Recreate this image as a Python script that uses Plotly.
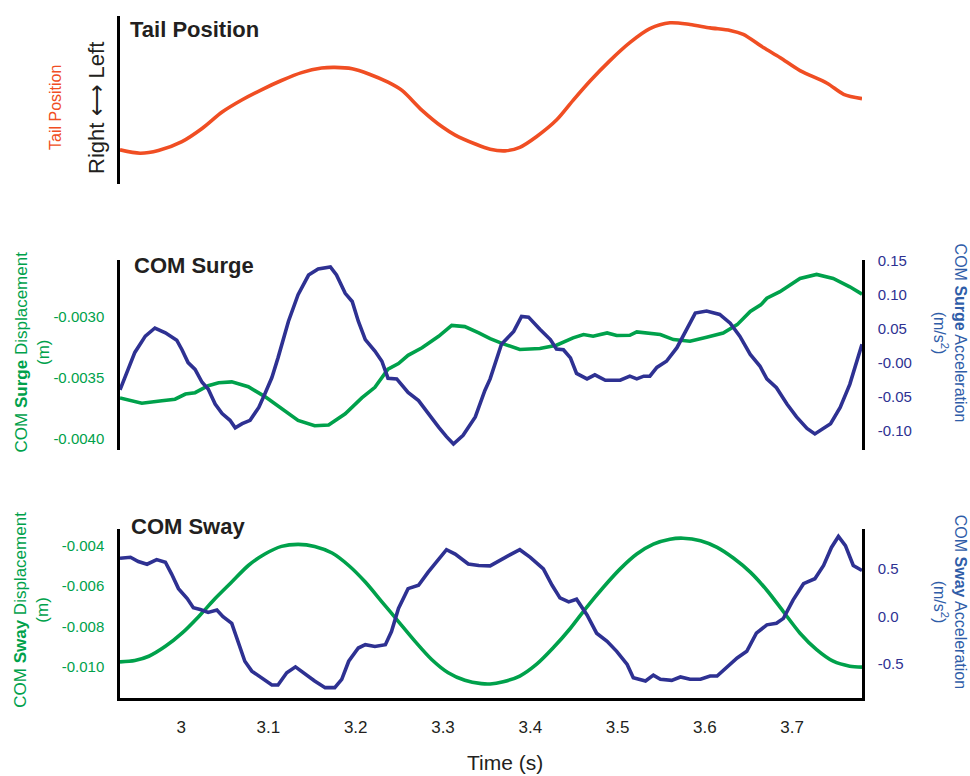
import plotly.graph_objects as go

# ---------------- data ----------------
tail_t = [2.930, 2.953, 2.974, 3.001, 3.024, 3.047, 3.070, 3.092, 3.115, 3.138,
          3.161, 3.176, 3.196, 3.215, 3.237, 3.253, 3.276, 3.299, 3.314, 3.337,
          3.354, 3.371, 3.388, 3.407, 3.430, 3.449, 3.469, 3.491, 3.514, 3.537,
          3.560, 3.583, 3.606, 3.629, 3.644, 3.667, 3.686, 3.709, 3.740, 3.759, 3.780]
tail_pos = [0.204, 0.184, 0.200, 0.253, 0.331, 0.429, 0.502, 0.561, 0.616, 0.663,
            0.690, 0.694, 0.686, 0.655, 0.606, 0.557, 0.439, 0.341, 0.292, 0.239,
            0.208, 0.198, 0.219, 0.282, 0.381, 0.498, 0.616, 0.733, 0.841, 0.924,
            0.959, 0.949, 0.929, 0.914, 0.890, 0.812, 0.753, 0.675, 0.600, 0.534, 0.508]

surge_disp_t = [2.930, 2.955, 2.978, 2.993, 3.005, 3.016, 3.031, 3.043, 3.058, 3.077,
                3.096, 3.115, 3.134, 3.153, 3.169, 3.188, 3.207, 3.222, 3.237, 3.249,
                3.260, 3.276, 3.295, 3.310, 3.325, 3.341, 3.354, 3.369, 3.388, 3.411,
                3.430, 3.449, 3.461, 3.472, 3.488, 3.499, 3.514, 3.522, 3.537, 3.549,
                3.564, 3.583, 3.602, 3.621, 3.637, 3.652, 3.664, 3.671, 3.686, 3.709,
                3.728, 3.747, 3.766, 3.780]
surge_disp = [-0.003667, -0.003710, -0.003689, -0.003677, -0.003635, -0.003624, -0.003567, -0.003543, -0.003535, -0.003575,
              -0.003656, -0.003756, -0.003851, -0.003894, -0.003888, -0.003797, -0.003667, -0.003580, -0.003432, -0.003386,
              -0.003318, -0.003256, -0.003162, -0.003073, -0.003083, -0.003135, -0.003181, -0.003224, -0.003270, -0.003262,
              -0.003235, -0.003175, -0.003148, -0.003162, -0.003135, -0.003156, -0.003154, -0.003126, -0.003135, -0.003148,
              -0.003189, -0.003203, -0.003170, -0.003135, -0.003067, -0.002959, -0.002905, -0.002851, -0.002797, -0.002689,
              -0.002656, -0.002689, -0.002757, -0.002818]

surge_acc_t = [2.930, 2.940, 2.947, 2.959, 2.970, 2.982, 2.995, 3.001, 3.008, 3.016,
               3.024, 3.031, 3.039, 3.047, 3.056, 3.062, 3.070, 3.079, 3.089, 3.096,
               3.104, 3.111, 3.123, 3.134, 3.146, 3.157, 3.171, 3.178, 3.188, 3.196,
               3.203, 3.211, 3.222, 3.230, 3.237, 3.247, 3.253, 3.260, 3.272, 3.283,
               3.295, 3.304, 3.312, 3.323, 3.337, 3.348, 3.354, 3.367, 3.381, 3.390,
               3.398, 3.411, 3.423, 3.430, 3.438, 3.446, 3.453, 3.465, 3.474, 3.486,
               3.503, 3.514, 3.522, 3.530, 3.537, 3.545, 3.556, 3.568, 3.579, 3.589,
               3.602, 3.617, 3.629, 3.640, 3.652, 3.663, 3.671, 3.682, 3.694, 3.705,
               3.717, 3.726, 3.744, 3.755, 3.766, 3.780]
surge_acc = [-0.040, -0.007, 0.015, 0.039, 0.051, 0.044, 0.033, 0.019, 0.000, -0.010,
             -0.029, -0.039, -0.061, -0.075, -0.085, -0.096, -0.090, -0.085, -0.066, -0.046,
             -0.022, 0.007, 0.061, 0.100, 0.129, 0.138, 0.141, 0.129, 0.102, 0.090,
             0.061, 0.034, 0.017, 0.002, -0.023, -0.024, -0.034, -0.044, -0.056, -0.075,
             -0.095, -0.109, -0.120, -0.107, -0.080, -0.041, -0.024, 0.027, 0.046, 0.068,
             0.067, 0.049, 0.034, 0.020, 0.019, 0.007, -0.016, -0.024, -0.018, -0.026,
             -0.026, -0.020, -0.024, -0.020, -0.020, -0.007, 0.002, 0.022, 0.049, 0.073,
             0.076, 0.071, 0.058, 0.039, 0.012, -0.005, -0.024, -0.037, -0.061, -0.080,
             -0.097, -0.105, -0.090, -0.066, -0.032, 0.027]

sway_disp_t = [2.930, 2.947, 2.963, 2.982, 3.001, 3.020, 3.039, 3.058, 3.077, 3.096,
               3.115, 3.134, 3.153, 3.173, 3.192, 3.211, 3.230, 3.249, 3.268, 3.287,
               3.306, 3.325, 3.344, 3.354, 3.369, 3.388, 3.407, 3.426, 3.446, 3.465,
               3.484, 3.503, 3.522, 3.541, 3.560, 3.575, 3.595, 3.614, 3.633, 3.652,
               3.671, 3.690, 3.709, 3.728, 3.747, 3.766, 3.780]
sway_disp = [-0.009755, -0.009686, -0.009476, -0.008985, -0.008333, -0.007515, -0.006618, -0.005799, -0.004980, -0.004412,
             -0.004034, -0.003936, -0.004034, -0.004363, -0.004980, -0.005799, -0.006779, -0.007760, -0.008740, -0.009637,
             -0.010294, -0.010667, -0.010833, -0.010848, -0.010735, -0.010456, -0.009882, -0.009069, -0.008088, -0.007025,
             -0.006044, -0.005147, -0.004412, -0.003922, -0.003676, -0.003627, -0.003755, -0.004083, -0.004623, -0.005309,
             -0.006206, -0.007270, -0.008333, -0.009147, -0.009721, -0.009966, -0.010015]

sway_acc_t = [2.930, 2.942, 2.951, 2.961, 2.972, 2.982, 2.989, 2.997, 3.007, 3.014,
              3.022, 3.031, 3.041, 3.048, 3.058, 3.066, 3.073, 3.081, 3.092, 3.104,
              3.111, 3.121, 3.131, 3.142, 3.153, 3.165, 3.176, 3.184, 3.192, 3.203,
              3.211, 3.222, 3.234, 3.241, 3.249, 3.260, 3.272, 3.283, 3.295, 3.304,
              3.314, 3.329, 3.341, 3.354, 3.375, 3.388, 3.400, 3.415, 3.425, 3.434,
              3.444, 3.453, 3.465, 3.476, 3.488, 3.499, 3.511, 3.518, 3.532, 3.541,
              3.549, 3.562, 3.572, 3.583, 3.595, 3.606, 3.614, 3.625, 3.637, 3.648,
              3.659, 3.671, 3.682, 3.690, 3.701, 3.713, 3.726, 3.736, 3.745, 3.753,
              3.761, 3.770, 3.780]
sway_acc = [0.615, 0.625, 0.580, 0.552, 0.601, 0.573, 0.451, 0.295, 0.191, 0.094,
            0.076, 0.045, 0.070, 0.000, -0.070, -0.295, -0.469, -0.573, -0.643, -0.719,
            -0.719, -0.591, -0.528, -0.607, -0.677, -0.747, -0.747, -0.659, -0.469, -0.330,
            -0.295, -0.313, -0.295, -0.156, 0.086, 0.295, 0.330, 0.469, 0.607, 0.705,
            0.659, 0.555, 0.539, 0.535, 0.643, 0.705, 0.625, 0.503, 0.330, 0.198,
            0.156, 0.184, 0.018, -0.174, -0.260, -0.365, -0.503, -0.643, -0.677, -0.615,
            -0.659, -0.670, -0.635, -0.659, -0.659, -0.625, -0.625, -0.539, -0.434, -0.365,
            -0.174, -0.086, -0.070, -0.018, 0.174, 0.347, 0.399, 0.539, 0.729, 0.844,
            0.747, 0.539, 0.486]

time_ticks = [3.0, 3.1, 3.2, 3.3, 3.4, 3.5, 3.6, 3.7]
time_labels = ["3", "3.1", "3.2", "3.3", "3.4", "3.5", "3.6", "3.7"]
surge_disp_ticks = [-0.0040, -0.0035, -0.0030]
surge_disp_labels = ["-0.0040", "-0.0035", "-0.0030"]
surge_acc_ticks = [-0.10, -0.05, 0.0, 0.05, 0.10, 0.15]
surge_acc_labels = ["-0.10", "-0.05", "-0.00", "0.05", "0.10", "0.15"]
sway_disp_ticks = [-0.010, -0.008, -0.006, -0.004]
sway_disp_labels = ["-0.010", "-0.008", "-0.006", "-0.004"]
sway_acc_ticks = [-0.5, 0.0, 0.5]
sway_acc_labels = ["-0.5", "0.0", "0.5"]

# ---------------- styling ----------------
W, H = 970, 776
FONT = "Liberation Sans, Arial, Helvetica, sans-serif"
ORANGE = "#F04E23"
GREEN = "#00A14B"
NAVY = "#2E3192"
TITLEBLUE = "#2F5DA8"
DARK = "#231F20"
AXW = 2.5
LW = 3.6


def fx(p):
    return p / W


def fy(p):
    return 1 - p / H


XDOM = [fx(120), fx(862)]
XR = [2.930, 3.780]

fig = go.Figure()
fig.add_trace(go.Scatter(x=tail_t, y=tail_pos, xaxis="x", yaxis="y", mode="lines",
                         line=dict(color=ORANGE, width=LW, shape="spline", smoothing=0.8)))
fig.add_trace(go.Scatter(x=surge_disp_t, y=surge_disp, xaxis="x2", yaxis="y2", mode="lines",
                         line=dict(color=GREEN, width=LW)))
fig.add_trace(go.Scatter(x=surge_acc_t, y=surge_acc, xaxis="x2", yaxis="y3", mode="lines",
                         line=dict(color=NAVY, width=LW)))
fig.add_trace(go.Scatter(x=sway_disp_t, y=sway_disp, xaxis="x3", yaxis="y4", mode="lines",
                         line=dict(color=GREEN, width=LW, shape="spline", smoothing=0.8)))
fig.add_trace(go.Scatter(x=sway_acc_t, y=sway_acc, xaxis="x3", yaxis="y5", mode="lines",
                         line=dict(color=NAVY, width=LW)))

hidden_x = dict(domain=XDOM, range=XR, showline=False, showgrid=False, zeroline=False,
                showticklabels=False, ticks="")

fig.update_layout(
    width=W, height=H, margin=dict(l=0, r=0, t=0, b=0),
    paper_bgcolor="white", plot_bgcolor="white", showlegend=False,
    font=dict(family=FONT, color=DARK),
    xaxis=dict(hidden_x, anchor="y"),
    xaxis2=dict(hidden_x, anchor="y2"),
    xaxis3=dict(domain=XDOM, range=XR, anchor="y4", showline=True, linecolor="black",
                linewidth=AXW, showgrid=False, zeroline=False, tickvals=time_ticks,
                ticktext=time_labels, ticks="outside", ticklen=12,
                tickcolor="rgba(0,0,0,0)", tickfont=dict(size=17, color=DARK, family=FONT)),
    yaxis=dict(domain=[fy(178), fy(8)], range=[0, 1], anchor="x", showline=True,
               linecolor="black", linewidth=AXW, showgrid=False, zeroline=False,
               showticklabels=False, ticks=""),
    yaxis2=dict(domain=[fy(447), fy(255)], range=[-0.004096, -0.002541], anchor="x2",
                showline=True, linecolor="black", linewidth=AXW, showgrid=False, zeroline=False,
                tickvals=surge_disp_ticks, ticktext=surge_disp_labels, ticks="outside",
                ticklen=10, tickcolor="rgba(0,0,0,0)", tickfont=dict(size=15, color=GREEN)),
    yaxis3=dict(range=[-0.1293, 0.1506], overlaying="y2", side="right", anchor="x2",
                showline=True, linecolor="black", linewidth=AXW, showgrid=False, zeroline=False,
                tickvals=surge_acc_ticks, ticktext=surge_acc_labels, ticks="outside",
                ticklen=10, tickcolor="rgba(0,0,0,0)", tickfont=dict(size=15, color=NAVY)),
    yaxis4=dict(domain=[fy(697), fy(526.5)], range=[-0.011534, -0.003176], anchor="x3",
                showline=True, linecolor="black", linewidth=AXW, showgrid=False, zeroline=False,
                tickvals=sway_disp_ticks, ticktext=sway_disp_labels, ticks="outside",
                ticklen=10, tickcolor="rgba(0,0,0,0)", tickfont=dict(size=15, color=GREEN)),
    yaxis5=dict(range=[-0.854, 0.922], overlaying="y4", side="right", anchor="x3",
                showline=True, linecolor="black", linewidth=AXW, showgrid=False, zeroline=False,
                tickvals=sway_acc_ticks, ticktext=sway_acc_labels, ticks="outside",
                ticklen=10, tickcolor="rgba(0,0,0,0)", tickfont=dict(size=15, color=NAVY)),
)


def ann(text, x, y, size, color, angle=0, xanchor="center", bold=False):
    fig.add_annotation(text=f"<b>{text}</b>" if bold else text, x=fx(x), y=fy(y),
                       xref="paper", yref="paper", showarrow=False, textangle=angle,
                       xanchor=xanchor, yanchor="middle",
                       font=dict(size=size, color=color, family=FONT))


# panel titles
ann("Tail Position", 128, 22, 22, DARK, xanchor="left", bold=True)
ann("COM Surge", 132, 260, 22, DARK, xanchor="left", bold=True)
ann("COM Sway", 129, 524, 22, DARK, xanchor="left", bold=True)

# top panel y labels
ann("Right \u27f7 Left", 97, 101, 22, DARK, angle=-90)
ann("Tail Position", 56, 101, 16, ORANGE, angle=-90)

# middle panel axis titles
ann("COM <b>Surge</b> Displacement<br>(m)", 32, 348, 17, GREEN, angle=-90)
ann("COM <b>Surge</b> Acceleration<br>(m/s<sup>2</sup>)", 950, 328, 16, TITLEBLUE, angle=90)

# bottom panel axis titles
ann("COM <b>Sway</b> Displacement<br>(m)", 32, 608, 17, GREEN, angle=-90)
ann("COM <b>Sway</b> Acceleration<br>(m/s<sup>2</sup>)", 950, 600, 16, TITLEBLUE, angle=90)

# x axis title
ann("Time (s)", 505, 762, 21, DARK)

page_fix = (
    "var s=document.createElement('style');"
    "s.textContent='html,body{margin:0!important;padding:0!important;overflow:hidden;"
    "width:970px;height:776px;}"
    ".plotly-graph-div{position:absolute!important;top:0!important;left:0!important;}';"
    "document.head.appendChild(s);window.scrollTo(0,0);"
)
fig.write_html("out.html", config={"displayModeBar": False}, post_script=page_fix)
